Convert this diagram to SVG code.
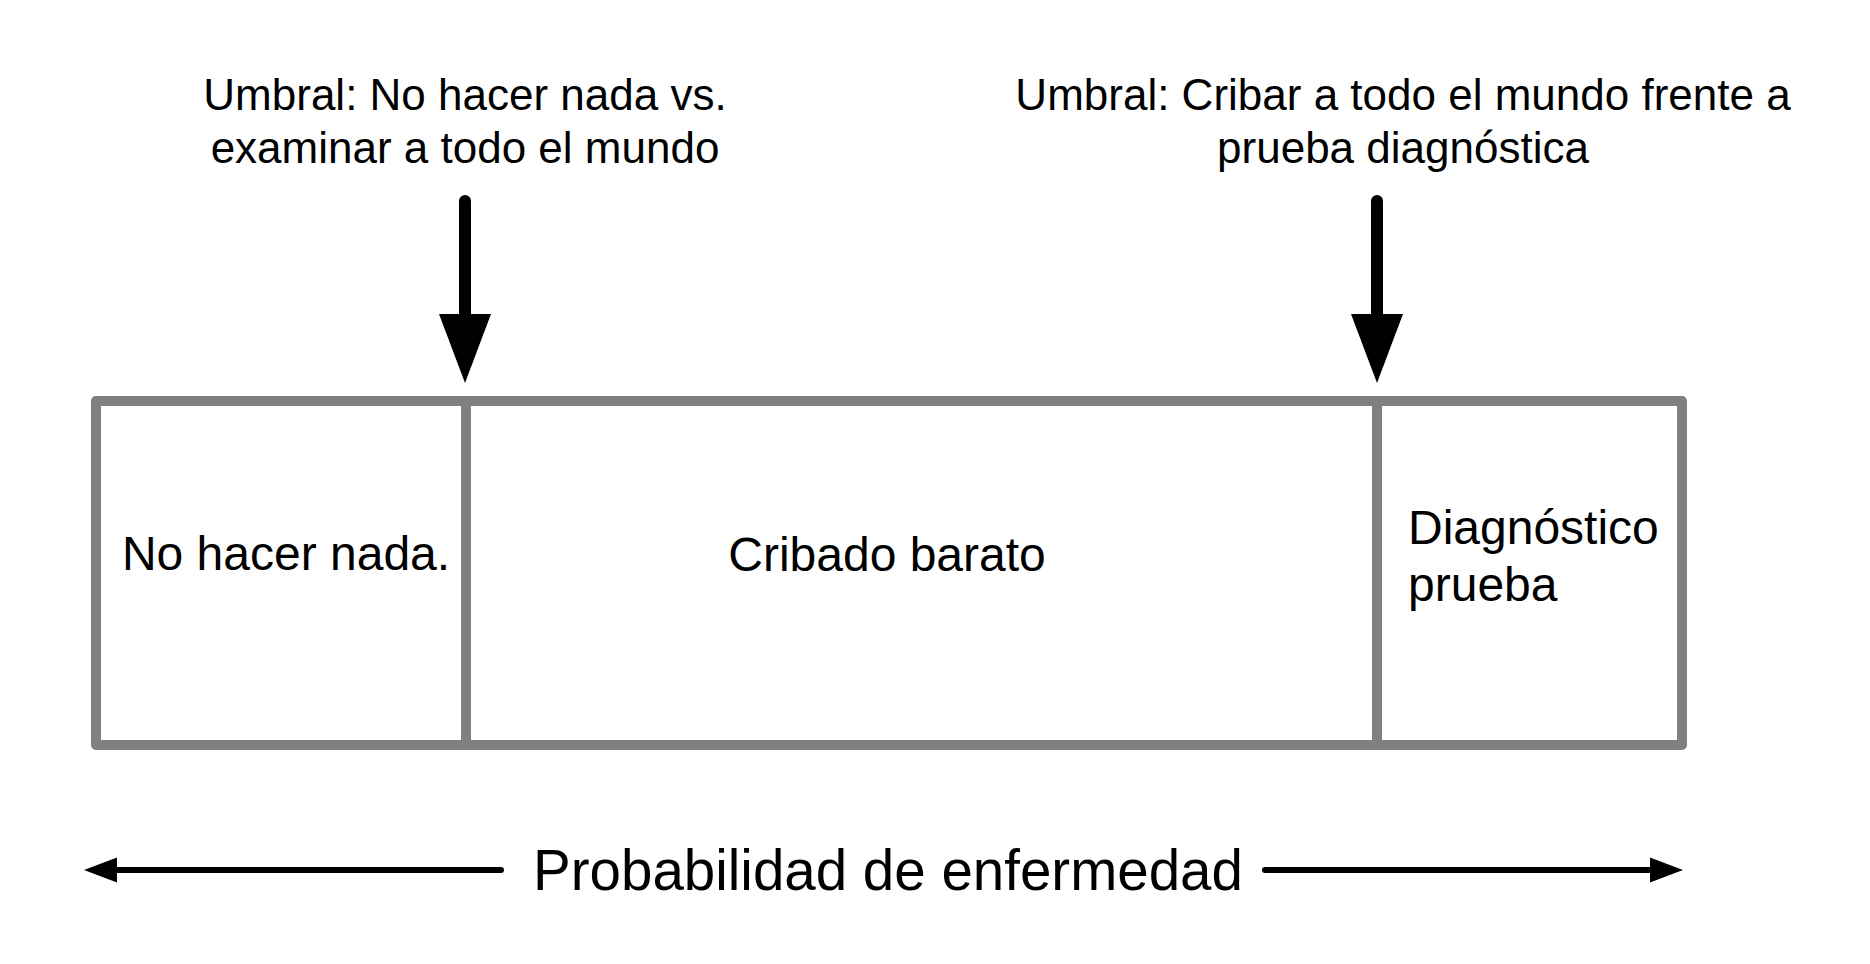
<svg xmlns="http://www.w3.org/2000/svg" width="1870" height="964" viewBox="0 0 1870 964">
  <style>
    text { font-family: "Liberation Sans", Arial, Helvetica, sans-serif; fill: #000; }
    .cell { fill: #fff; stroke: #808080; stroke-width: 10; stroke-linejoin: round; }
    .title { font-size: 44px; text-anchor: middle; }
    .lbl { font-size: 48px; }
    .axis { font-size: 56.5px; text-anchor: middle; }
    .shaft { stroke: #000; stroke-width: 12; stroke-linecap: round; fill: none; }
    .axline { stroke: #000; stroke-width: 6; stroke-linecap: round; fill: none; }
  </style>
  <rect width="1870" height="964" fill="#fff"/>

  <g id="threshold-1">
    <text class="title" x="465" y="110">Umbral: No hacer nada vs.</text>
    <text class="title" x="465" y="163">examinar a todo el mundo</text>
  </g>
  <g id="threshold-2">
    <text class="title" x="1403" y="110">Umbral: Cribar a todo el mundo frente a</text>
    <text class="title" x="1403" y="163">prueba diagnóstica</text>
  </g>

  <g id="cell-nothing">
    <rect class="cell" x="96" y="401" width="370" height="344"/>
    <text class="lbl" x="286" y="570" text-anchor="middle">No hacer nada.</text>
  </g>
  <g id="cell-screening">
    <rect class="cell" x="466" y="401" width="911" height="344"/>
    <text class="lbl" x="887" y="571" text-anchor="middle">Cribado barato</text>
  </g>
  <g id="cell-diagnostic">
    <rect class="cell" x="1377" y="401" width="305" height="344"/>
    <text class="lbl" x="1408" y="544">Diagnóstico</text>
    <text class="lbl" x="1408" y="601">prueba</text>
  </g>

  <g id="axis-label">
    <text class="axis" x="888" y="890">Probabilidad de enfermedad</text>
  </g>

  <g id="connectors">
    <line class="shaft" x1="465" y1="201" x2="465" y2="316"/>
    <polygon points="439,314 491,314 465,383" fill="#000"/>
    <line class="shaft" x1="1377" y1="201" x2="1377" y2="316"/>
    <polygon points="1351,314 1403,314 1377,383" fill="#000"/>
    <line class="axline" x1="501" y1="870" x2="112" y2="870"/>
    <polygon points="84,870 117,857.5 117,882.5" fill="#000"/>
    <line class="axline" x1="1265" y1="870" x2="1654" y2="870"/>
    <polygon points="1683,870 1650,857.5 1650,882.5" fill="#000"/>
  </g>
</svg>
